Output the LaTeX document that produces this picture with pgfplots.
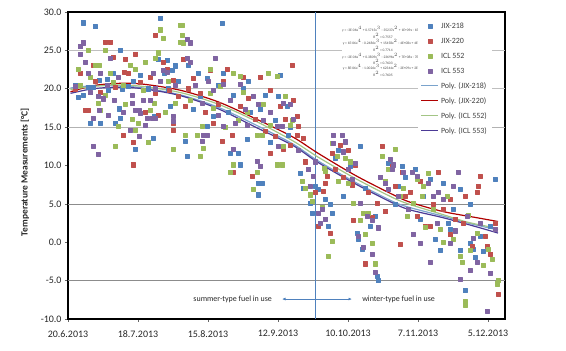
\documentclass[border=0pt]{standalone}
\usepackage{pgfplots}
\pgfplotsset{compat=1.18}
\usepackage{fontspec}
\setmainfont{Carlito}
\usetikzlibrary{arrows.meta}
\definecolor{cb}{HTML}{4F81BD}
\definecolor{cr}{HTML}{C0504D}
\definecolor{cg}{HTML}{9BBB59}
\definecolor{cp}{HTML}{8064A2}
\definecolor{tb}{HTML}{7AA3CC}
\definecolor{tr}{HTML}{B00000}
\definecolor{tg}{HTML}{A3C585}
\definecolor{tp}{HTML}{4B3A96}
\definecolor{vline}{HTML}{4F81BD}
\begin{document}
\begin{tikzpicture}
\path[use as bounding box] (0,0) rectangle (566bp,351bp);
\begin{axis}[
  at={(68bp,32bp)}, anchor=south west,
  width=437bp, height=307bp, scale only axis,
  xmin=0, xmax=174.8, ymin=-10, ymax=30,
  xtick={0,28,56,84,112,140,168},
  xticklabels={20.6.2013,18.7.2013,15.8.2013,12.9.2013,10.10.2013,7.11.2013,5.12.2013},
  ytick={-10,-5,0,5,10,15,20,25,30},
  yticklabels={-10.0,-5.0,0.0,5.0,10.0,15.0,20.0,25.0,30.0},
  tick align=outside, xtick pos=bottom, ytick pos=left,
  major tick length=3bp,
  tick style={black!60, line width=0.6bp},
  axis line style={black, line width=1.2bp},
  tick label style={font=\fontsize{10}{12}\selectfont, text=black!85},
  xticklabel shift=5bp,
  legend style={at={(rel axis cs:0.800,0.982)}, anchor=north west, draw=none, fill=white,
    font=\fontsize{8}{9.6}\selectfont, text=black!75,
    nodes={inner sep=2bp, text height=7bp, text depth=2bp}, row sep=1.9bp},
  legend cell align=left,
  every axis plot/.append style={line join=round},
]
% gridlines
\draw[black!25, line width=0.6bp] (axis cs:0,25) -- (axis cs:174.8,25);
\draw[black!25, line width=0.6bp] (axis cs:0,20) -- (axis cs:174.8,20);
\draw[black!30, line width=0.6bp] (axis cs:0,15) -- (axis cs:174.8,15);
\draw[black!45, line width=0.6bp] (axis cs:0,5) -- (axis cs:174.8,5);
\draw[black!45, line width=0.6bp] (axis cs:0,-5) -- (axis cs:174.8,-5);
% vertical separator
\draw[vline, line width=1bp] (axis cs:98.8,-10) -- (axis cs:98.8,30);

\addplot[only marks, mark=square*, mark size=2.05bp, mark options={fill=cb, draw=cb}] coordinates {
(6,28.6)(11,28.1)(21,25.0)(37,29.2)(6,19.2)(9,15.5)(13,15.5)(19,15.5)(21,16.2)(27,12.1)(34,13.6)(12.5,21.1)(15.8,21.3)(21.7,20.0)(39.8,23.7)(41.8,22.4)(38.5,22.0)(32,20.0)(40,20.0)(34.5,16.4)(9.9,20.2)(20.5,17.4)(41,17.7)(4,18.9)(8,20.2)(16,19.8)(24,20.3)(29,21.8)(36,23.8)(43,23.0)
(61.7,28.5)(47.5,11.2)(46.8,13.2)(50,17.3)(65,11.6)(68,11.6)(76,7.7)(77.5,7.7)(76,6.2)(55.5,15.1)(58,16.4)(66,19.2)(70,20.0)(77,17.3)(79,19.2)(83,15.9)(71.5,13.4)(68.8,10.1)(52,22.0)(55.5,21.4)(62,22.0)(85,21.8)(87.5,17.7)(48,23.1)(73,17.0)(81,13.0)(89,15.0)
(96,9.5)(98.8,7.3)(100,6.9)(96.8,5.1)(97.5,3.8)(102.8,5.6)(104,2.1)(116.8,12.5)(112.8,9.9)(115.5,1.2)(116,0.4)(117.5,-0.9)(123.5,-4.4)(124,-5.0)(126.8,7.7)(128,10.3)(132,7.3)(136,4.3)(104.8,5.0)(105.5,3.8)(120.8,2.1)(123,3.4)(133.5,9.9)(108,12.0)(110,6.0)(94,7.0)
(170.8,8.2)(156.8,6.9)(152,2.5)(152.8,1.7)(160.8,-0.1)(162,-0.9)(146.8,0.4)(158.8,-6.3)(154,4.3)(142,6.0)(164.8,0.8)(162.8,-2.0)(150,7.7)(168.8,2.1)(139,9.5)(145,8.2)(166,-1.2)
(3,20.5)(18,22.0)(26,21.0)(44,21.0)(53,19.0)(60,20.5)(64,17.0)(72,21.0)(84,19.0)(88,14.0)(93,9.0)(107,11.0)(119,7.0)(131,5.0)(135,8.5)(141,3.0)(149,-1.0)(157,-1.0)(161,5.0)
};
\addlegendentry{JIX-218}
\addplot[only marks, mark=square*, mark size=2.05bp, mark options={fill=cr, draw=cr}] coordinates {
(15,26.1)(17,26.1)(35,27.0)(26,10.1)(26,13.0)(22,13.9)(8,17.2)(22.5,22.2)(24,22.0)(38,23.5)(42,21.1)(39.5,22.6)(42,14.6)(42,15.5)(35,19.4)(10,23.1)(23,23.9)(40.5,19.8)(18,24.1)(7,17.2)(3,20.0)(13,19.5)(29,20.8)(33,21.5)(31,17.0)(44,19.0)
(52.8,19.4)(56.8,22.4)(63.5,22.6)(77,21.5)(80.8,19.8)(88.8,12.6)(86,12.1)(80.8,11.6)(73.5,8.6)(66,9.1)(61.5,13.2)(58,15.5)(69,17.7)(72,18.8)(85,17.7)(90,18.5)(89.5,23.1)(46.8,17.7)(50,21.4)(46,23.8)(65.5,14.0)(83,13.8)(60,18.0)(75,16.0)
(91.5,16.4)(92,15.1)(91.5,14.0)(103.5,8.6)(102.8,7.7)(102,6.7)(105.5,11.6)(108.8,12.7)(113.5,7.5)(114,2.9)(118.8,-2.8)(121.5,3.2)(125.5,12.5)(130.8,7.3)(132.8,-0.3)(133.5,9.1)(115,10.1)(98.8,6.5)(100,2.1)(104.8,1.2)(123.5,5.1)(129.5,9.9)(110,8.5)(95,10.5)
(148,9.1)(164.8,8.6)(164,7.3)(163.5,6.5)(158,2.5)(161.5,-0.5)(172,-6.8)(166.8,0.8)(142.8,2.1)(144.8,2.1)(150,4.3)(139.5,3.4)(167.5,-0.5)(152.8,5.6)(170.8,2.5)(137,6.5)(146,5.0)(155,3.0)
(5,22.0)(11,21.0)(19,20.2)(27,24.5)(36,16.5)(48,20.0)(55,17.0)(62,21.0)(70,21.5)(79,14.5)(87,16.0)(94,13.5)(107,9.5)(112,12.0)(120,6.5)(127,4.0)(135,6.0)(141,8.0)(153,1.0)(159,6.0)(169,-1.5)
};
\addlegendentry{JIX-220}
\addplot[only marks, mark=square*, mark size=2.05bp, mark options={fill=cg, draw=cg}] coordinates {
(8,25.0)(15,25.0)(37,27.7)(38,26.6)(19,12.5)(42,12.1)(27,14.6)(32,13.0)(11,23.1)(12.5,23.1)(25,23.1)(27,22.5)(35,24.0)(36,24.7)(12,18.1)(13,17.2)(20,15.1)(28,15.5)(33,17.2)(34.5,18.1)(15,19.2)(45,28.3)(45,26.1)(43,18.1)(5,20.5)(9,21.5)(22,20.5)(30,19.8)(40,21.0)(17,22.0)(25.5,16.0)
(45.5,28.3)(45.5,27.0)(46,26.0)(64.8,9.1)(66,10.1)(74,6.9)(75.5,9.1)(83.5,10.1)(85.5,10.1)(80,22.0)(83.5,21.6)(66,22.0)(68.8,21.6)(60.8,20.3)(56.8,19.4)(53.5,15.1)(51.5,14.0)(46.8,14.0)(54,12.3)(52.8,11.2)(89.5,15.9)(88.8,15.3)(75.5,14.0)(77.5,14.0)(71.5,17.0)(68,15.9)(80.8,15.3)(58,17.5)(87,19.0)
(105.5,12.9)(107.5,11.2)(110.8,11.0)(103,9.3)(102.3,9.7)(96.8,6.2)(97.5,5.3)(105.5,0.1)(104,-1.8)(112,7.7)(116.8,2.9)(121.5,-0.1)(122.8,-2.8)(125.5,11.2)(130.8,12.1)(135.5,3.4)(132.8,6.0)(120,3.8)(118,3.8)(114,5.1)(101.5,4.5)(127,8.0)(93.5,8.0)
(139.5,8.2)(142,7.3)(141.5,6.0)(138,5.1)(158.8,-7.7)(158.8,-8.2)(156.8,-1.8)(157.5,-2.6)(172,-5.0)(171.8,-5.4)(169.5,-2.2)(148.8,1.7)(154,0.4)(163.5,1.2)(168,-0.9)(146,4.3)(151.5,6.0)(161,-1.0)(144,9.0)
(4,22.5)(18,20.8)(23,18.0)(31,23.5)(39,17.0)(49,18.5)(57,22.5)(63,15.0)(70,19.5)(78,18.0)(86,12.5)(95,7.0)(108,8.0)(113,10.5)(119,1.0)(128,9.5)(134,7.0)(143,2.0)(150,0.0)(160,3.5)(166,-3.0)
};
\addlegendentry{ICL 552}
\addplot[only marks, mark=square*, mark size=2.05bp, mark options={fill=cp, draw=cp}] coordinates {
(5,25.5)(5,24.5)(6,26.0)(12,11.5)(10,12.5)(25,14.6)(28.5,13.8)(31,15.3)(31.5,16.2)(33.5,16.2)(35,16.2)(29,16.8)(28.5,17.2)(25.5,18.1)(27,17.2)(10,16.2)(12.5,17.2)(7,23.5)(8,22.0)(13,22.0)(18.5,18.5)(15.8,20.5)(12,19.0)(34,22.0)(38,22.4)(39.5,22.2)(42,15.8)(42,16.4)(14,18.7)(33,18.5)(25.5,19.2)(30,18.5)(35,20.0)(20,21.5)(3,20.3)(17,24.0)
(47.5,26.5)(48.8,26.0)(47.5,24.0)(48.8,23.5)(58.8,24.0)(54,14.0)(55.5,14.0)(53.5,13.2)(66,12.1)(75.5,10.6)(77,9.9)(71.5,15.3)(70.8,17.3)(62,15.1)(83.5,15.1)(85.5,15.1)(88.8,18.0)(56,21.0)(68.8,20.6)(62,20.6)(58,19.8)(53.5,18.1)(65,18.5)(86,18.1)(78,15.9)(74,19.0)(81,17.0)
(106,14.0)(109.5,14.0)(106,12.9)(110.8,13.1)(110,11.8)(96,9.5)(98,8.6)(96.8,7.3)(101.5,4.3)(100,3.8)(100.8,2.5)(116,0.8)(118,-0.7)(121.5,-1.5)(122.8,-3.9)(128.8,10.8)(130,10.1)(129.5,9.5)(126.8,7.7)(128,6.9)(134,9.1)(136,4.3)(119.5,3.4)(121.5,2.9)(116.8,5.1)(114.8,10.3)(113.5,8.2)(124,1.9)(92,12.0)
(144.8,-2.6)(156,9.1)(160.8,-3.7)(167.5,-9.0)(156.8,-4.8)(137.5,9.1)(139.5,8.6)(150,5.6)(154,7.3)(159.5,3.4)(164.8,2.5)(170.8,1.7)(147.5,2.5)(140.8,-0.1)(144,7.7)(152.8,-0.1)(163.5,-2.6)(148,6.5)
(9,19.5)(16,16.5)(22,17.0)(37,21.0)(43,20.5)(51,20.5)(60,16.5)(67,15.5)(76,18.0)(84,12.5)(90,16.0)(99,10.5)(103,3.0)(112,9.5)(125,8.5)(132,6.0)(138,1.0)(146,6.0)(155,1.5)(162,0.5)(169,-4.0)
};
\addlegendentry{ICL 553}
% polynomial trend lines
\addplot[tb, line width=1.2bp, smooth, no marks] coordinates {
(1,20.1)(10,20.4)(20,20.4)(30,20.1)(45,19.2)(60,17.6)(75,15.3)(90,12.8)(100,10.6)(115,7.8)(130,5.3)(137,4.5)(150,3.4)(160,2.5)(172,1.6)};
\addlegendentry{Poly. (JIX-218)}
\addplot[tr, line width=1.2bp, smooth, no marks] coordinates {
(1,19.6)(10,20.4)(20,20.7)(30,20.6)(45,19.8)(60,18.3)(75,16.1)(90,13.7)(100,11.6)(115,8.7)(130,6.2)(137,5.2)(150,4.0)(163.5,3.2)(172,2.7)};
\addlegendentry{Poly. (JIX-220)}
\addplot[tg, line width=1.2bp, smooth, no marks] coordinates {
(1,19.9)(10,20.3)(20,20.5)(30,20.3)(45,19.5)(60,18.0)(75,15.8)(90,13.2)(100,11.1)(115,8.3)(130,5.8)(137,4.9)(150,3.6)(160,2.6)(172,1.8)};
\addlegendentry{Poly. (ICL 552)}
\addplot[tp, line width=1.2bp, smooth, no marks] coordinates {
(1,19.4)(10,20.0)(20,20.2)(30,20.0)(45,19.1)(60,17.4)(75,15.0)(90,12.6)(100,10.4)(115,7.6)(130,5.1)(137,4.2)(150,3.2)(163.5,2.0)(172,1.2)};
\addlegendentry{Poly. (ICL 553)}

% trendline equations
\begin{scope}[every node/.style={fill=white, inner sep=0.5bp, align=center, font=\fontsize{3.6}{4.4}\selectfont, text=black!70}]
\node at (axis cs:126,27.3) {y = -3E-06x$^4$ + 0.5715x$^3$ - 35237x$^2$ + 1E+09x - 1E+13\\R$^2$ = 0.7557};
\node at (axis cs:126,25.6) {y = 1E-06x$^4$ - 0.2486x$^3$ + 15458x$^2$ - 4E+08x + 4E+12\\R$^2$ = 0.7714};
\node at (axis cs:126,23.9) {y = -2E-06x$^4$ + 0.3809x$^3$ - 23696x$^2$ + 7E+08x - 7E+12\\R$^2$ = 0.7603};
\node at (axis cs:126,22.4) {y = 8E-06x$^4$ - 1.0026x$^3$ + 62344x$^2$ - 2E+09x + 2E+13\\R$^2$ = 0.7605};
\end{scope}

% fuel annotations
\draw[cb, line width=0.8bp, -{Latex[length=3.5bp,width=3bp]}] (axis cs:98.8,-7.4) -- (axis cs:85.6,-7.4);
\draw[cb, line width=0.8bp, -{Latex[length=3.5bp,width=3bp]}] (axis cs:98.8,-7.4) -- (axis cs:113.6,-7.4);
\node[anchor=east, font=\fontsize{8}{9.6}\selectfont, text=black!85] at (axis cs:83,-7.4) {summer-type fuel in use};
\node[anchor=west, font=\fontsize{8}{9.6}\selectfont, text=black!85] at (axis cs:116.3,-7.4) {winter-type fuel in use};
\end{axis}
\node[rotate=90, font=\bfseries\fontsize{9.5}{11}\selectfont, text=black!85] at (25bp,179bp) {Temperature Measurements [°C]};
\end{tikzpicture}
\end{document}
